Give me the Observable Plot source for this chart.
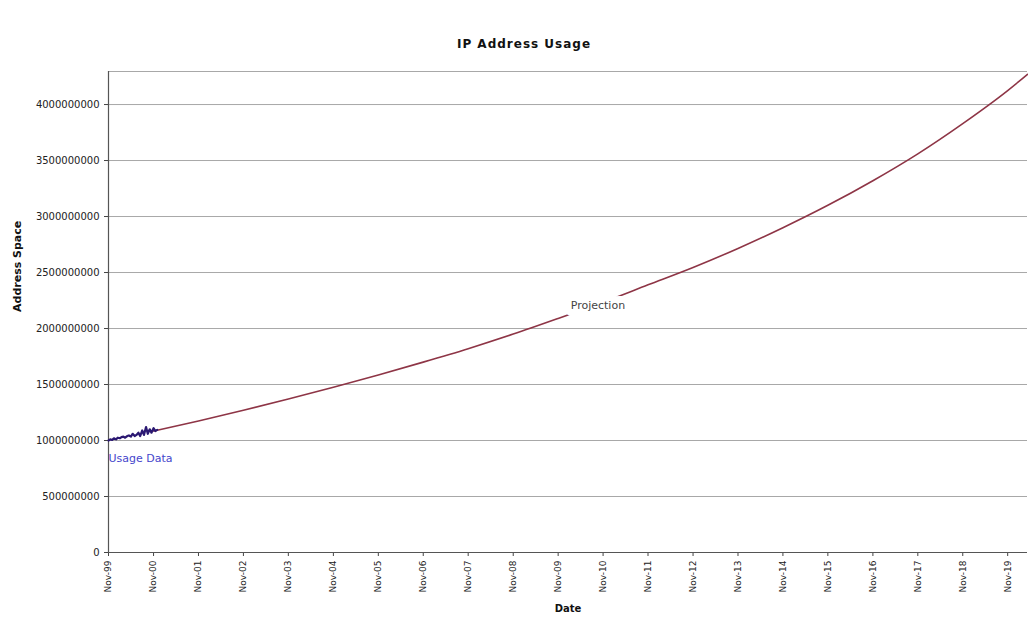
<!DOCTYPE html>
<html>
<head>
<meta charset="utf-8">
<script src="https://cdn.jsdelivr.net/npm/d3@7"></script>
<script src="https://cdn.jsdelivr.net/npm/@observablehq/plot@0.6"></script>
<style>
  body { margin: 0; background: #fff; }
  #title { height: 60px; box-sizing: border-box; padding-top: 37px; padding-left: 20px; text-align: center;
           font: bold 12px "DejaVu Sans", Arial, sans-serif; letter-spacing: 1px; color: #111; }
  #chart svg { display: block; }
</style>
</head>
<body>
<div id="title">IP Address Usage</div>
<div id="chart"></div>
<script>
// Measured usage data (bi-weekly), Nov-1999 .. Dec-2000
const usageDates = ["1999-11-01","1999-11-15","1999-12-01","1999-12-15","2000-01-01","2000-01-15","2000-02-01","2000-02-15","2000-03-01","2000-03-15","2000-04-01","2000-04-15","2000-05-01","2000-05-15","2000-06-01","2000-06-15","2000-07-01","2000-07-15","2000-08-01","2000-08-15","2000-09-01","2000-09-15","2000-10-01","2000-10-15","2000-11-01","2000-11-15","2000-12-01"];
const usageValues = [1.000e9,1.010e9,1.005e9,1.020e9,1.010e9,1.025e9,1.020e9,1.030e9,1.035e9,1.025e9,1.040e9,1.045e9,1.035e9,1.060e9,1.040e9,1.050e9,1.070e9,1.040e9,1.090e9,1.050e9,1.120e9,1.060e9,1.100e9,1.070e9,1.110e9,1.085e9,1.095e9];

// Projection (yearly)
const projDates = ["2000-11-01","2001-11-01","2002-11-01","2003-11-01","2004-11-01","2005-11-01","2006-11-01","2007-11-01","2008-11-01","2009-11-01","2010-11-01","2011-11-01","2012-11-01","2013-11-01","2014-11-01","2015-11-01","2016-11-01","2017-11-01","2018-11-01","2019-11-01","2020-04-10"];
const projValues = [1.085e9,1.175e9,1.27e9,1.37e9,1.475e9,1.585e9,1.70e9,1.82e9,1.95e9,2.09e9,2.235e9,2.39e9,2.545e9,2.715e9,2.90e9,3.10e9,3.32e9,3.56e9,3.83e9,4.125e9,4.27e9];

// Axes
const xTickDates = ["1999-11-01","2000-11-01","2001-11-01","2002-11-01","2003-11-01","2004-11-01","2005-11-01","2006-11-01","2007-11-01","2008-11-01","2009-11-01","2010-11-01","2011-11-01","2012-11-01","2013-11-01","2014-11-01","2015-11-01","2016-11-01","2017-11-01","2018-11-01","2019-11-01"];
const xDomain = ["1999-11-01","2020-04-10"];
const yTicks = [0,500000000,1000000000,1500000000,2000000000,2500000000,3000000000,3500000000,4000000000];
const yMax = 4294967296;

// Annotations
const annoText = ["Usage Data","Projection"];
const annoDates = ["1999-11-01","2010-09-20"];
const annoValues = [0.836e9,2.21e9];

const parse = d3.utcParse("%Y-%m-%d");
const usage = usageDates.map((d,i) => ({date: parse(d), value: usageValues[i]}));
const proj = projDates.map((d,i) => ({date: parse(d), value: projValues[i]}));
const annos = annoText.map((t,i) => ({text: t, date: parse(annoDates[i]), value: annoValues[i]}));
const xTicks = xTickDates.map(parse);

const font = '"DejaVu Sans", Arial, sans-serif';

const chart = Plot.plot({
  width: 1028,
  height: 557,
  marginTop: 11,
  marginBottom: 65,
  marginLeft: 108,
  marginRight: 1,
  style: {fontFamily: font, background: "#fff", color: "#222"},
  x: {type: "utc", domain: xDomain.map(parse)},
  y: {domain: [0, yMax]},
  marks: [
    Plot.ruleY(yTicks.slice(1), {stroke: "#a8a8a8", strokeWidth: 1}),
    Plot.ruleY([yMax], {stroke: "#a8a8a8", strokeWidth: 1}),
    Plot.axisY(yTicks, {tickFormat: d3.format("d"), tickSize: 4, tickPadding: 5, fontSize: 10, label: null, stroke: "#444"}),
    Plot.axisX(xTicks, {tickFormat: d3.utcFormat("%b-%y"), tickRotate: -90, tickSize: 4, tickPadding: 4, fontSize: 9, label: null, stroke: "#444"}),
    Plot.ruleY([0], {stroke: "#555", strokeWidth: 1.2}),
    Plot.ruleX([parse(xDomain[0])], {stroke: "#555", strokeWidth: 1.2}),
    Plot.line(proj, {x: "date", y: "value", stroke: "#8e3546", strokeWidth: 1.6, curve: "monotone-x"}),
    Plot.line(usage, {x: "date", y: "value", stroke: "#2b1872", strokeWidth: 2.2}),
    Plot.text(annos.slice(0,1), {x: "date", y: "value", text: "text", textAnchor: "start", fill: "#4646cc", fontSize: 11, letterSpacing: 0.6}),
    Plot.text(annos.slice(1), {x: "date", y: "value", text: "text", fill: "#444", stroke: "white", strokeWidth: 14, paintOrder: "stroke", fontSize: 11, letterSpacing: 1.1}),
    Plot.text(["Address Space"], {frameAnchor: "left", rotate: -90, dx: -91, fontWeight: "bold", fontSize: 11, letterSpacing: 0.4, fill: "#111"}),
    Plot.text(["Date"], {frameAnchor: "bottom", dy: 59, fontWeight: "bold", fontSize: 10, letterSpacing: 0.5, fill: "#111"})
  ]
});
document.getElementById("chart").appendChild(chart);
</script>
</body>
</html>
